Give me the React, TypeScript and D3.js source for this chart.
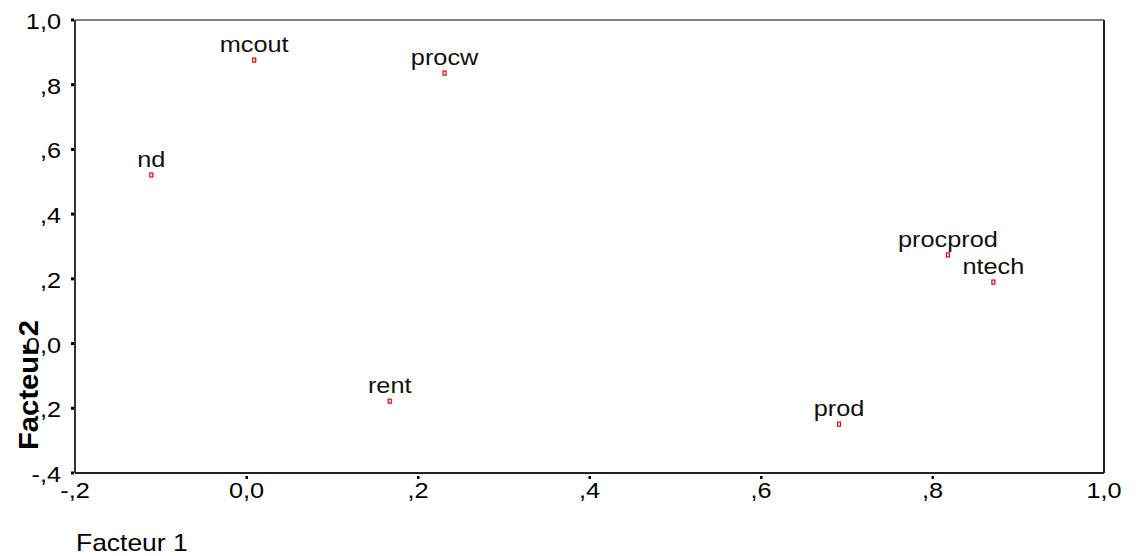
import React from "react";
import * as d3 from "d3";

const labels = ["mcout", "procw", "nd", "procprod", "ntech", "rent", "prod"];
const factor1 = [0.009, 0.231, -0.111, 0.818, 0.871, 0.167, 0.691];
const factor2 = [0.876, 0.836, 0.521, 0.274, 0.19, -0.178, -0.249];
const xTicks = [-0.2, 0, 0.2, 0.4, 0.6, 0.8, 1.0];
const xTickLabels = ["-,2", "0,0", ",2", ",4", ",6", ",8", "1,0"];
const yTicks = [1.0, 0.8, 0.6, 0.4, 0.2, 0, -0.2, -0.4];
const yTickLabels = ["1,0", ",8", ",6", ",4", ",2", "0,0", "-,2", "-,4"];

const font = "'Liberation Sans', Arial, sans-serif";

function SText({ x, y, anchor = "start", size = 22, children, fill = "#000" }: any) {
  return (
    <text
      transform={`translate(${x},${y}) scale(1.15,1)`}
      textAnchor={anchor}
      fontFamily={font}
      fontSize={size}
      fill={fill}
    >
      {children}
    </text>
  );
}

export default function App() {
  const W = 1137, H = 556;
  const left = 75, right = 1104, top = 20, bottom = 473;
  const x = d3.scaleLinear().domain([-0.2, 1.0]).range([left, right]);
  const y = d3.scaleLinear().domain([-0.4, 1.0]).range([bottom, top]);
  return (
    <svg width={W} height={H} style={{ position: "absolute", left: 0, top: 0, background: "#fff" }}>
      <rect x={0} y={0} width={W} height={H} fill="#fff" />
      {/* frame */}
      <line x1={left} y1={top} x2={right} y2={top} stroke="#808080" strokeWidth={2} />
      <line x1={left} y1={top} x2={left} y2={bottom} stroke="#333" strokeWidth={2} />
      <line x1={left} y1={bottom} x2={right} y2={bottom} stroke="#222" strokeWidth={2} />
      <line x1={right} y1={top} x2={right} y2={bottom} stroke="#222" strokeWidth={2} />
      {/* y ticks */}
      {yTicks.map((t, i) => (
        <g key={"y" + i}>
          <rect x={left - 4} y={y(t) - 1.5} width={3} height={3} fill="#000" />
          <SText x={61} y={y(t) + 9} anchor="end">{yTickLabels[i]}</SText>
        </g>
      ))}
      {/* x ticks */}
      {xTicks.map((t, i) => (
        <g key={"x" + i}>
          {i > 0 && i < xTicks.length - 1 && (
            <rect x={x(t) - 1} y={bottom + 3} width={2.5} height={3} fill="#000" />
          )}
          <SText x={x(t)} y={498} anchor="middle">{xTickLabels[i]}</SText>
        </g>
      ))}
      {/* points */}
      {labels.map((l, i) => (
        <g key={l}>
          <rect x={x(factor1[i]) - 1.5} y={y(factor2[i]) - 2} width={3} height={4} fill="none" stroke="#e00000" strokeWidth={1.2} />
          <SText x={x(factor1[i])} y={y(factor2[i]) - 8} anchor="middle" fill="#111">{l}</SText>
        </g>
      ))}
      {/* axis titles */}
      <SText x={76} y={551} size={23}>Facteur 1</SText>
      <text
        transform={`translate(38, ${385}) rotate(-90)`}
        textAnchor="middle"
        fontFamily={font}
        fontSize={27}
        fontWeight="bold"
        textLength={130}
        lengthAdjust="spacingAndGlyphs"
        fill="#000"
      >
        Facteur 2
      </text>
    </svg>
  );
}
